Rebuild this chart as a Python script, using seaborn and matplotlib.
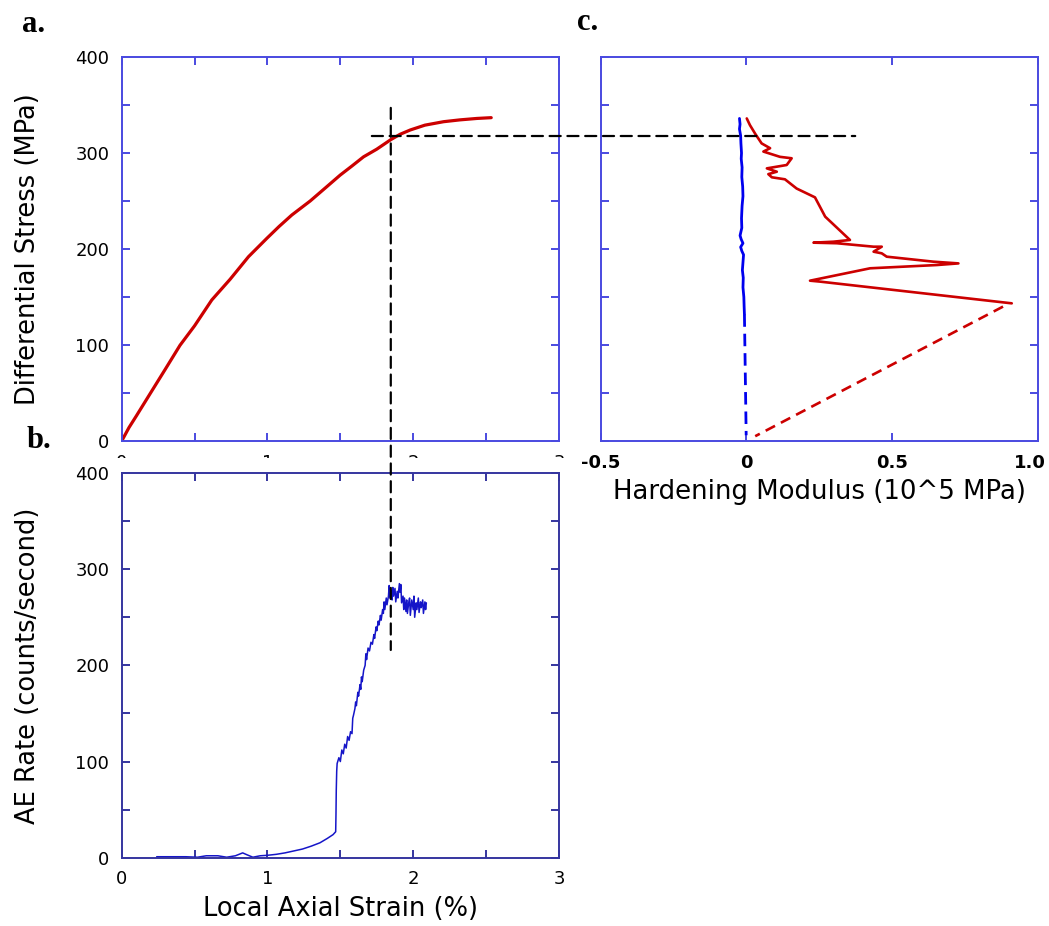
import numpy as np
import pandas as pd
import seaborn as sns
import matplotlib.pyplot as plt
from matplotlib.patches import Rectangle, ConnectionPatch
from matplotlib.transforms import ScaledTranslation

sns.set_theme(style="white")
plt.rcParams['font.family'] = ['DejaVu Sans']
plt.rcParams['text.color'] = 'black'
plt.rcParams['axes.labelcolor'] = 'black'

# ---- (a) stress vs. local axial strain ----
strain_a = [0.0, 0.05, 0.1, 0.195, 0.3, 0.40, 0.5, 0.618, 0.744, 0.87, 0.995,
            1.08, 1.167, 1.293, 1.4, 1.499, 1.58, 1.659, 1.75, 1.847, 1.91,
            1.98, 2.08, 2.208, 2.32, 2.437, 2.535]
stress_a = [0.0, 14.0, 26.0, 49.3, 75.0, 99.7, 120.0, 146.9, 168.5, 192.0,
            211.0, 223.5, 235.4, 250.0, 264.0, 277.0, 286.5, 296.0, 304.0,
            314.0, 319.5, 324.0, 329.0, 332.6, 334.5, 336.0, 336.8]

# ---- (b) acoustic emission rate vs. local axial strain ----
strain_b = [0.24, 0.44, 0.52, 0.58, 0.66, 0.72, 0.78, 0.83, 0.86, 0.90, 0.95,
            1.00, 1.06, 1.12, 1.18, 1.24, 1.30, 1.36, 1.41, 1.45, 1.468, 1.470,
            1.472, 1.475, 1.478, 1.49, 1.50, 1.51, 1.52, 1.53, 1.54, 1.55, 1.56,
            1.57, 1.58, 1.585, 1.59, 1.60, 1.605, 1.61, 1.62, 1.625, 1.635, 1.64,
            1.645, 1.65, 1.66, 1.67, 1.675, 1.68, 1.69, 1.70, 1.71, 1.72, 1.73,
            1.735, 1.745, 1.75, 1.76, 1.765, 1.775, 1.78, 1.79, 1.795, 1.80,
            1.805, 1.815, 1.82, 1.83, 1.835, 1.84, 1.85, 1.855, 1.86, 1.865,
            1.875, 1.88, 1.89, 1.895, 1.905, 1.91, 1.915, 1.92, 1.93, 1.935,
            1.94, 1.95, 1.955, 1.96, 1.97, 1.975, 1.98, 1.99, 2.00, 2.005, 2.01,
            2.02, 2.025, 2.035, 2.04, 2.05, 2.055, 2.065, 2.07, 2.08, 2.085, 2.09]
rate_b = [1, 1, 0.5, 2, 2, 0.5, 2, 5, 3, 0.5, 2,
          2.5, 3.5, 5, 7, 9, 12, 15.5, 20, 24, 27, 45,
          70, 90, 98, 104, 100, 112, 108, 118, 114, 126, 122,
          131, 129, 145, 148, 155, 162, 158, 172, 168, 180, 175,
          188, 183, 195, 200, 212, 206, 218, 215, 224, 222, 232,
          228, 240, 236, 246, 242, 252, 247, 258, 254, 266,
          258, 270, 263, 272, 283, 270, 278, 268, 281, 272,
          280, 266, 277, 270, 285, 276, 284, 265, 272, 258,
          270, 256, 268, 254, 266, 270, 252, 268, 258, 272, 250,
          265, 258, 270, 255, 266, 260, 268, 254, 266, 258, 265]

# ---- (c) hardening modulus (10^5 MPa) vs. differential stress ----
mod_red = [0.001, 0.012, 0.03, 0.052, 0.081, 0.058, 0.115, 0.155, 0.138, 0.07,
           0.104, 0.075, 0.087, 0.132, 0.172, 0.235, 0.27, 0.355, 0.298, 0.23,
           0.31, 0.436, 0.464, 0.436, 0.464, 0.481, 0.641, 0.727, 0.653, 0.424,
           0.218, 0.253, 0.91]
stress_red = [336, 329, 320, 310, 305, 301.5, 296, 294.5, 287.5, 284,
              280.5, 278, 274.7, 272.6, 263, 253.8, 233.7, 209.4, 207.6, 206.6,
              206, 202.4, 202.4, 197.2, 195.5, 192, 186.8, 185, 183.3, 179.9,
              167, 166, 143.4]
mod_red_ext = [0.88, 0.03]
stress_red_ext = [140, 5]

mod_blue = [-0.024, -0.022, -0.024, -0.020, -0.019, -0.017, -0.018, -0.015,
            -0.016, -0.013, -0.012, -0.015, -0.017, -0.016, -0.022, -0.018,
            -0.012, -0.020, -0.016, -0.010, -0.012, -0.014, -0.011, -0.012,
            -0.009, -0.008, -0.007]
stress_blue = [336, 330, 325, 318, 310, 300, 294, 285,
               275, 265, 255, 245, 232, 222, 214, 210,
               206, 202, 198, 194, 186, 178, 170, 160,
               150, 140, 132]
mod_blue_ext = [-0.007, -0.001]
stress_blue_ext = [132, 6]

strain_ticks = [0, 0.5, 1, 1.5, 2, 2.5, 3]
strain_labels = ["0", "", "1", "", "2", "", "3"]
count_ticks = [0, 50, 100, 150, 200, 250, 300, 350, 400]
count_labels = ["0", "", "100", "", "200", "", "300", "", "400"]
mod_ticks = [-0.5, 0, 0.5, 1.0]
mod_labels = ["-0.5", "0", "0.5", "1.0"]

W, H = 1049, 926
fig = plt.figure(figsize=(W / 100, H / 100), dpi=100)
fig.patch.set_facecolor("white")


def box(l, t, r, b):
    return [l / W, 1 - b / H, (r - l) / W, (b - t) / H]


def style(ax, col):
    ax.set_facecolor("white")
    for s in ax.spines.values():
        s.set_visible(True)
        s.set_color(col)
        s.set_linewidth(1.4)
    ax.tick_params(direction="in", length=6, width=1.4, color=col,
                   top=True, right=True, bottom=True, left=True,
                   labelsize=13, labelcolor="black", pad=9)


RED = "#cc0000"
SPINE = "#4a4ae0"
SPINE_B = "#35359f"

ax_a = fig.add_axes(box(121.7, 57, 559, 441))
ax_c = fig.add_axes(box(600.7, 57, 1038, 441))
fig.add_artist(Rectangle((60 / W, 0), (578 - 60) / W, 1 - 458 / H,
                         transform=fig.transFigure, facecolor="white",
                         edgecolor="none", zorder=1))
ax_b = fig.add_axes(box(121.7, 473, 559, 857.7))
ax_b.set_zorder(2)

# (a)
sns.lineplot(x=strain_a, y=stress_a, ax=ax_a, color=RED, linewidth=2.3,
             sort=False, estimator=None)
ax_a.set_xlim(0, 3)
ax_a.set_ylim(0, 400)
ax_a.set_xticks(strain_ticks)
ax_a.set_xticklabels(strain_labels)
ax_a.set_yticks(count_ticks)
ax_a.set_yticklabels(count_labels)
style(ax_a, SPINE)
ax_a.set_ylabel("Differential Stress (MPa)", fontsize=18.5)
ax_a.yaxis.set_label_coords(-0.185, 0.5)

# (b)
sns.lineplot(x=strain_b, y=rate_b, ax=ax_b, color="#1515c8", linewidth=1.1,
             sort=False, estimator=None)
ax_b.set_xlim(0, 3)
ax_b.set_ylim(0, 400)
ax_b.set_xticks(strain_ticks)
ax_b.set_xticklabels(strain_labels)
ax_b.set_yticks(count_ticks)
ax_b.set_yticklabels(count_labels)
style(ax_b, SPINE_B)
ax_b.set_ylabel("AE Rate (counts/second)", fontsize=18.5)
ax_b.yaxis.set_label_coords(-0.185, 0.5)
ax_b.set_xlabel("Local Axial Strain (%)", fontsize=18.5)
ax_b.xaxis.set_label_coords(0.5, -0.1)

# (c)
sns.lineplot(x=mod_red, y=stress_red, ax=ax_c, color=RED, linewidth=1.9,
             sort=False, estimator=None)
sns.lineplot(x=mod_red_ext, y=stress_red_ext, ax=ax_c, color=RED,
             linewidth=1.9, linestyle=(0, (4, 2.5)), sort=False, estimator=None)
sns.lineplot(x=mod_blue, y=stress_blue, ax=ax_c, color="#0000ee",
             linewidth=2.0, sort=False, estimator=None)
sns.lineplot(x=mod_blue_ext, y=stress_blue_ext, ax=ax_c, color="#0000ee",
             linewidth=2.0, linestyle=(0, (4.5, 2.5)), sort=False, estimator=None)
ax_c.set_xlim(-0.5, 1.0)
ax_c.set_ylim(0, 400)
ax_c.set_xticks(mod_ticks)
ax_c.set_xticklabels(mod_labels, fontweight="bold")
ax_c.set_yticks(count_ticks)
ax_c.set_yticklabels([])
style(ax_c, SPINE)
# keep the last modulus label inside the canvas
last = ax_c.get_xticklabels()[-1]
last.set_transform(last.get_transform() +
                   ScaledTranslation(-8 / 100, 0, fig.dpi_scale_trans))
ax_c.set_xlabel("Hardening Modulus (10^5 MPa)", fontsize=18.7)
ax_c.xaxis.set_label_coords(0.5, -0.1)

# dashed guide lines linking the panels
for xyA, axA, xyB, axB in [((1.846, 347), ax_a, (1.846, 216), ax_b),
                           ((1.716, 317.7), ax_a, (0.373, 317.7), ax_c)]:
    con = ConnectionPatch(xyA=xyA, coordsA=axA.transData, xyB=xyB,
                          coordsB=axB.transData, color="black", linewidth=1.6,
                          linestyle=(0, (5, 3)), zorder=5)
    fig.add_artist(con)

for txt, x, y in [("a.", 22, 32), ("b.", 27, 448), ("c.", 577, 30)]:
    fig.text(x / W, 1 - y / H, txt, fontsize=22, fontweight="bold",
             family="Liberation Serif", ha="left", va="baseline", zorder=6,
             color="black")

fig.savefig("out.png", dpi=100)
